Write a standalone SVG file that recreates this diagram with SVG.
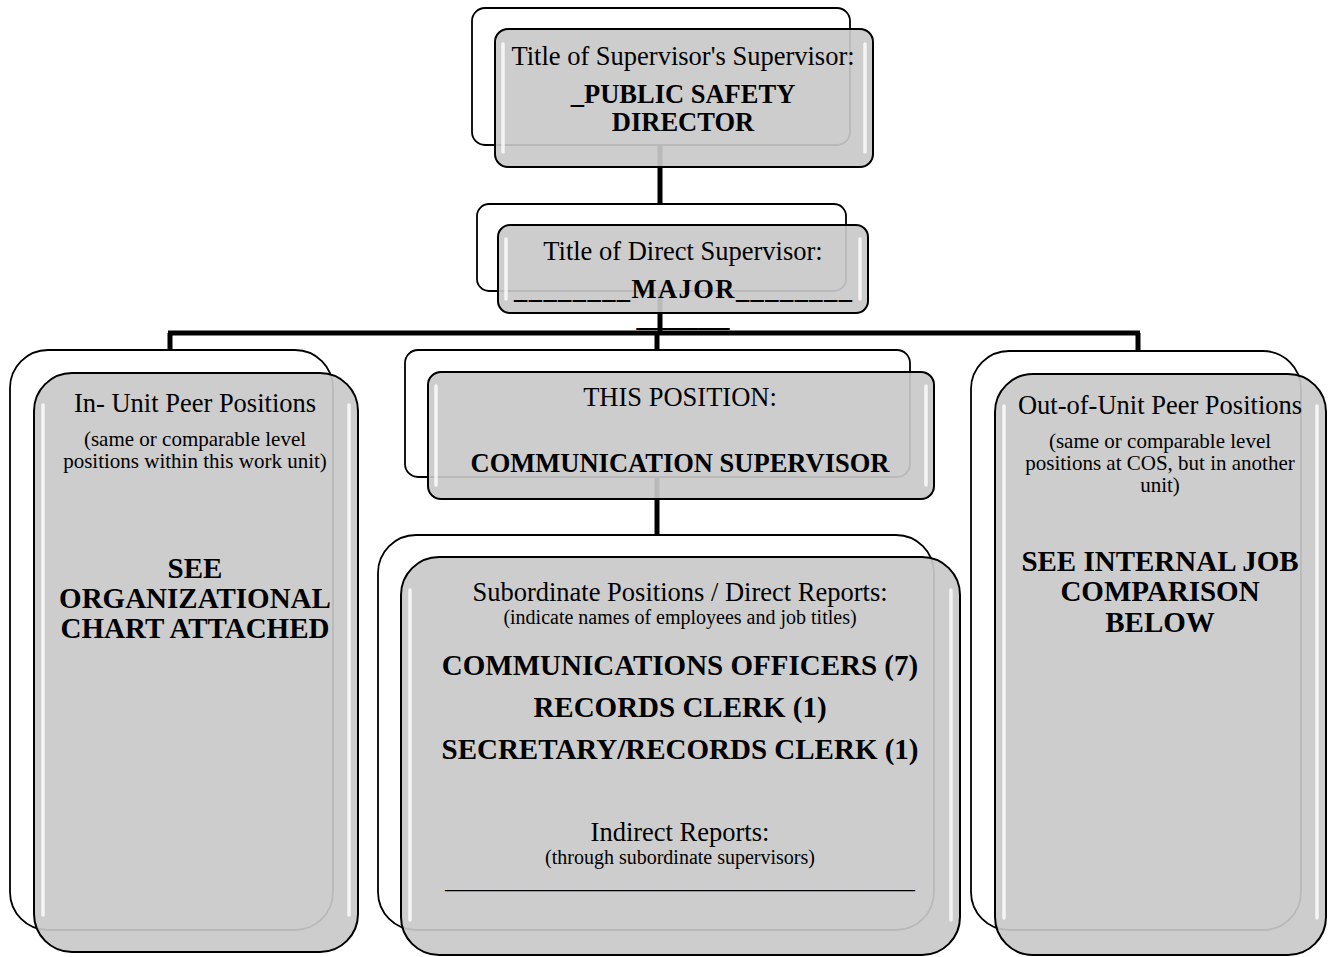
<svg xmlns="http://www.w3.org/2000/svg" width="1333" height="957" viewBox="0 0 1333 957">
<style>
.back{fill:#ffffff;stroke:#000;stroke-width:1.8}
.front{fill:#c9c9c9;fill-opacity:0.92;stroke:#000;stroke-width:2}
.hl{stroke:#ffffff;stroke-width:3.5;stroke-linecap:round;opacity:0.8}
.con{stroke:#000;stroke-width:5;fill:none}
text{font-family:"Liberation Serif","Times New Roman",serif;text-anchor:middle;fill:#000}
.r{font-size:26.5px}
.s{font-size:21px}
.s2{font-size:20px}
.b{font-size:26.5px;font-weight:bold}
.B{font-size:29px;font-weight:bold}
</style>
<g id="connectors">
<line class="con" x1="660" y1="140" x2="660" y2="230"/>
<line class="con" x1="660" y1="290" x2="660" y2="334"/>
<line class="con" x1="168" y1="333" x2="1140" y2="333"/>
<line class="con" x1="170" y1="333" x2="170" y2="352"/>
<line class="con" x1="657" y1="333" x2="657" y2="375"/>
<line class="con" x1="1138" y1="333" x2="1138" y2="354"/>
<line class="con" x1="657" y1="477" x2="657" y2="560"/>
</g>
<g id="node-supervisors-supervisor">
<rect class="back" x="472" y="8" width="378" height="137" rx="13"/>
<rect class="front" x="495" y="29" width="378" height="138" rx="13"/>
<line class="hl" x1="503" y1="44" x2="503" y2="152"/>
<line class="hl" x1="865" y1="44" x2="865" y2="152"/>
<text class="r" x="683" y="65">Title of Supervisor's Supervisor:</text>
<text class="b" x="683" y="103">_PUBLIC SAFETY</text>
<text class="b" x="683" y="131">DIRECTOR</text>
</g>
<g id="node-direct-supervisor">
<rect class="back" x="477" y="204" width="369" height="87" rx="12"/>
<rect class="front" x="498" y="225" width="370" height="88" rx="12"/>
<line class="hl" x1="506" y1="239" x2="506" y2="299"/>
<line class="hl" x1="860" y1="239" x2="860" y2="299"/>
<text class="r" x="683" y="260">Title of Direct Supervisor:</text>
<text class="b" x="683" y="298" textLength="338" lengthAdjust="spacing">________MAJOR________</text>
<text class="b" x="683" y="326" textLength="93" lengthAdjust="spacingAndGlyphs">______</text>
</g>
<g id="node-in-unit-peers">
<rect class="back" x="10" y="350" width="323" height="580" rx="38"/>
<rect class="front" x="34" y="373" width="324" height="579" rx="38"/>
<line class="hl" x1="43" y1="405" x2="43" y2="915"/>
<line class="hl" x1="349" y1="405" x2="349" y2="915"/>
<text class="r" x="195" y="412">In- Unit Peer Positions</text>
<text class="s" x="195" y="446">(same or comparable level</text>
<text class="s" x="195" y="468">positions within this work unit)</text>
<text class="B" x="195" y="578">SEE</text>
<text class="B" x="195" y="608">ORGANIZATIONAL</text>
<text class="B" x="195" y="638">CHART ATTACHED</text>
</g>
<g id="node-this-position">
<rect class="back" x="405" y="350" width="505" height="127" rx="13"/>
<rect class="front" x="428" y="372" width="506" height="127" rx="13"/>
<line class="hl" x1="436" y1="386" x2="436" y2="485"/>
<line class="hl" x1="926" y1="386" x2="926" y2="485"/>
<text class="r" x="680" y="406">THIS POSITION:</text>
<text class="b" x="680" y="472">COMMUNICATION SUPERVISOR</text>
</g>
<g id="node-subordinates">
<rect class="back" x="378" y="535" width="556" height="395" rx="38"/>
<rect class="front" x="401" y="557" width="559" height="398" rx="38"/>
<line class="hl" x1="410" y1="590" x2="410" y2="920"/>
<line class="hl" x1="951" y1="590" x2="951" y2="920"/>
<text class="r" x="680" y="601">Subordinate Positions / Direct Reports:</text>
<text class="s2" x="680" y="624">(indicate names of employees and job titles)</text>
<text class="B" x="680" y="675">COMMUNICATIONS OFFICERS (7)</text>
<text class="B" x="680" y="717">RECORDS CLERK (1)</text>
<text class="B" x="680" y="759">SECRETARY/RECORDS CLERK (1)</text>
<text class="r" x="680" y="841">Indirect Reports:</text>
<text class="s2" x="680" y="864">(through subordinate supervisors)</text>
<text class="s2" x="680" y="888">_______________________________________________</text>
</g>
<g id="node-out-of-unit-peers">
<rect class="back" x="971" y="351" width="330" height="579" rx="38"/>
<rect class="front" x="995" y="374" width="331" height="581" rx="38"/>
<line class="hl" x1="1004" y1="406" x2="1004" y2="918"/>
<line class="hl" x1="1317" y1="406" x2="1317" y2="918"/>
<text class="r" x="1160" y="414">Out-of-Unit Peer Positions</text>
<text class="s" x="1160" y="448">(same or comparable level</text>
<text class="s" x="1160" y="470">positions at COS, but in another</text>
<text class="s" x="1160" y="492">unit)</text>
<text class="B" x="1160" y="571">SEE INTERNAL JOB</text>
<text class="B" x="1160" y="601">COMPARISON</text>
<text class="B" x="1160" y="632">BELOW</text>
</g>
</svg>
